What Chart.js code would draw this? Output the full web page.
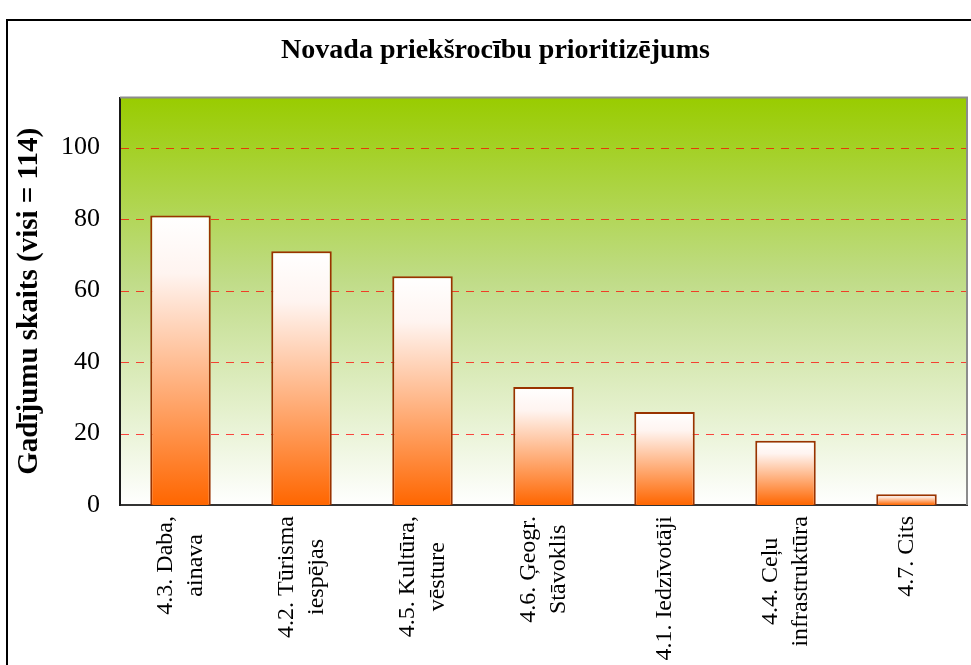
<!DOCTYPE html>
<html>
<head>
<meta charset="utf-8">
<script src="https://cdn.jsdelivr.net/npm/chart.js@4/dist/chart.umd.min.js"></script>
<style>
  html, body { margin: 0; padding: 0; background: #ffffff; }
  #wrap { position: relative; width: 971px; height: 665px; overflow: hidden; }
  #frame { position: absolute; left: 6px; top: 19px; width: 1000px; height: 700px; border: 2px solid #000; box-sizing: border-box; }
  canvas { position: absolute; left: 0; top: 0; }
</style>
</head>
<body>
<div id="wrap">
  <div id="frame"></div>
  <canvas id="c" width="971" height="665"></canvas>
</div>
<script>
const chartTitle = 'Novada priekšrocību prioritizējums';
const yAxisTitle = 'Gadījumu skaits (visi = 114)';
const categories = [
  ['4.3. Daba,', 'ainava'],
  ['4.2. Tūrisma', 'iespējas'],
  ['4.5. Kultūra,', 'vēsture'],
  ['4.6. Ģeogr.', 'Stāvoklis'],
  ['4.1. Iedzīvotāji'],
  ['4.4. Ceļu', 'infrastruktūra'],
  ['4.7. Cits']
];
const counts = [81, 71, 64, 33, 26, 18, 3];
const yMax = 114;
const yStep = 20;

const plotBg = {
  id: 'plotBg',
  beforeDraw(chart) {
    const {ctx, chartArea: a} = chart;
    if (!a) return;
    const g = ctx.createLinearGradient(0, a.top, 0, a.bottom);
    g.addColorStop(0, '#99cc00');
    g.addColorStop(0.45, '#c0dc88');
    g.addColorStop(1, '#ffffff');
    ctx.save();
    ctx.fillStyle = g;
    ctx.fillRect(a.left, a.top, a.right - a.left, a.bottom - a.top);
    ctx.restore();
  },
  beforeDatasetsDraw(chart) {
    // dashed horizontal gridlines at the y scale's ticks, snapped to whole pixels
    const {ctx, chartArea: a, scales} = chart;
    const ys = scales.y;
    ctx.save();
    ctx.strokeStyle = 'rgba(255,0,0,0.72)';
    ctx.lineWidth = 1;
    ctx.setLineDash([8, 7]);
    ys.ticks.forEach(t => {
      if (t.value === 0) return;
      const y = Math.round(ys.getPixelForValue(t.value)) + 0.5;
      ctx.beginPath();
      ctx.moveTo(a.left + 1, y);
      ctx.lineTo(a.right, y);
      ctx.stroke();
    });
    ctx.restore();
  },
  afterDraw(chart) {
    const {ctx, chartArea: a} = chart;
    ctx.save();
    ctx.strokeStyle = '#8c8c8c';
    ctx.lineWidth = 2;
    ctx.beginPath();
    ctx.moveTo(a.left, a.top);
    ctx.lineTo(a.right, a.top);
    ctx.lineTo(a.right, a.bottom);
    ctx.stroke();
    ctx.restore();
  }
};

const xLabels = {
  id: 'xLabels',
  afterDraw(chart) {
    const {ctx, scales} = chart;
    const xs = scales.x;
    const base = chart.chartArea.bottom + 11;
    ctx.save();
    ctx.font = '24px "Liberation Serif"';
    ctx.fillStyle = '#000';
    ctx.textAlign = 'center';
    ctx.textBaseline = 'middle';
    const lh = 30;
    categories.forEach((lines, i) => {
      const x = xs.getPixelForValue(i);
      const maxW = Math.max(...lines.map(l => ctx.measureText(l).width));
      ctx.save();
      ctx.translate(x, base);
      ctx.rotate(-Math.PI / 2);
      lines.forEach((l, j) => {
        ctx.fillText(l, -maxW / 2, (j - (lines.length - 1) / 2) * lh);
      });
      ctx.restore();
    });
    ctx.restore();
  }
};

new Chart(document.getElementById('c'), {
  type: 'bar',
  data: {
    labels: categories,
    datasets: [{
      data: counts,
      backgroundColor: (c) => {
        const chart = c.chart;
        if (!chart.chartArea || c.type !== 'data') return '#ff6600';
        const ys = chart.scales.y;
        const top = ys.getPixelForValue(c.parsed.y);
        const bot = ys.getPixelForValue(0);
        const g = chart.ctx.createLinearGradient(0, top, 0, bot);
        g.addColorStop(0, '#ffffff');
        g.addColorStop(0.2, '#fff4f0');
        g.addColorStop(1, '#ff6600');
        return g;
      },
      borderColor: '#993300',
      borderWidth: 2,
      borderSkipped: 'bottom',
      barPercentage: 0.5,
      categoryPercentage: 1.0
    }]
  },
  options: {
    responsive: false,
    animation: false,
    devicePixelRatio: 1,
    layout: { padding: { left: 24, right: 4, top: 0, bottom: 0 } },
    plugins: {
      legend: { display: false },
      tooltip: { enabled: false },
      title: {
        display: true,
        text: chartTitle,
        color: '#000',
        font: { family: 'Liberation Serif', size: 28, weight: 'bold' },
        padding: { top: 34, bottom: 30 }
      }
    },
    scales: {
      x: {
        grid: { display: false, drawTicks: false },
        border: { display: true, color: '#333333', width: 2 },
        ticks: { display: false },
        afterFit(s) { s.height = 160; }
      },
      y: {
        min: 0,
        max: yMax,
        ticks: {
          stepSize: yStep,
          padding: 20,
          color: '#000',
          font: { family: 'Liberation Serif', size: 26 }
        },
        afterBuildTicks(s) { s.ticks = s.ticks.filter(t => t.value % yStep === 0); },
        grid: { display: false, drawTicks: false },
        border: { display: true, color: '#1a1a1a', width: 2 },
        title: {
          display: true,
          text: yAxisTitle,
          color: '#000',
          font: { family: 'Liberation Serif', size: 29, weight: 'bold', lineHeight: 1.2 },
          padding: { top: -12, bottom: 0 }
        },
        afterFit(s) { s.width = 96; }
      }
    }
  },
  plugins: [plotBg, xLabels]
});
</script>
</body>
</html>
